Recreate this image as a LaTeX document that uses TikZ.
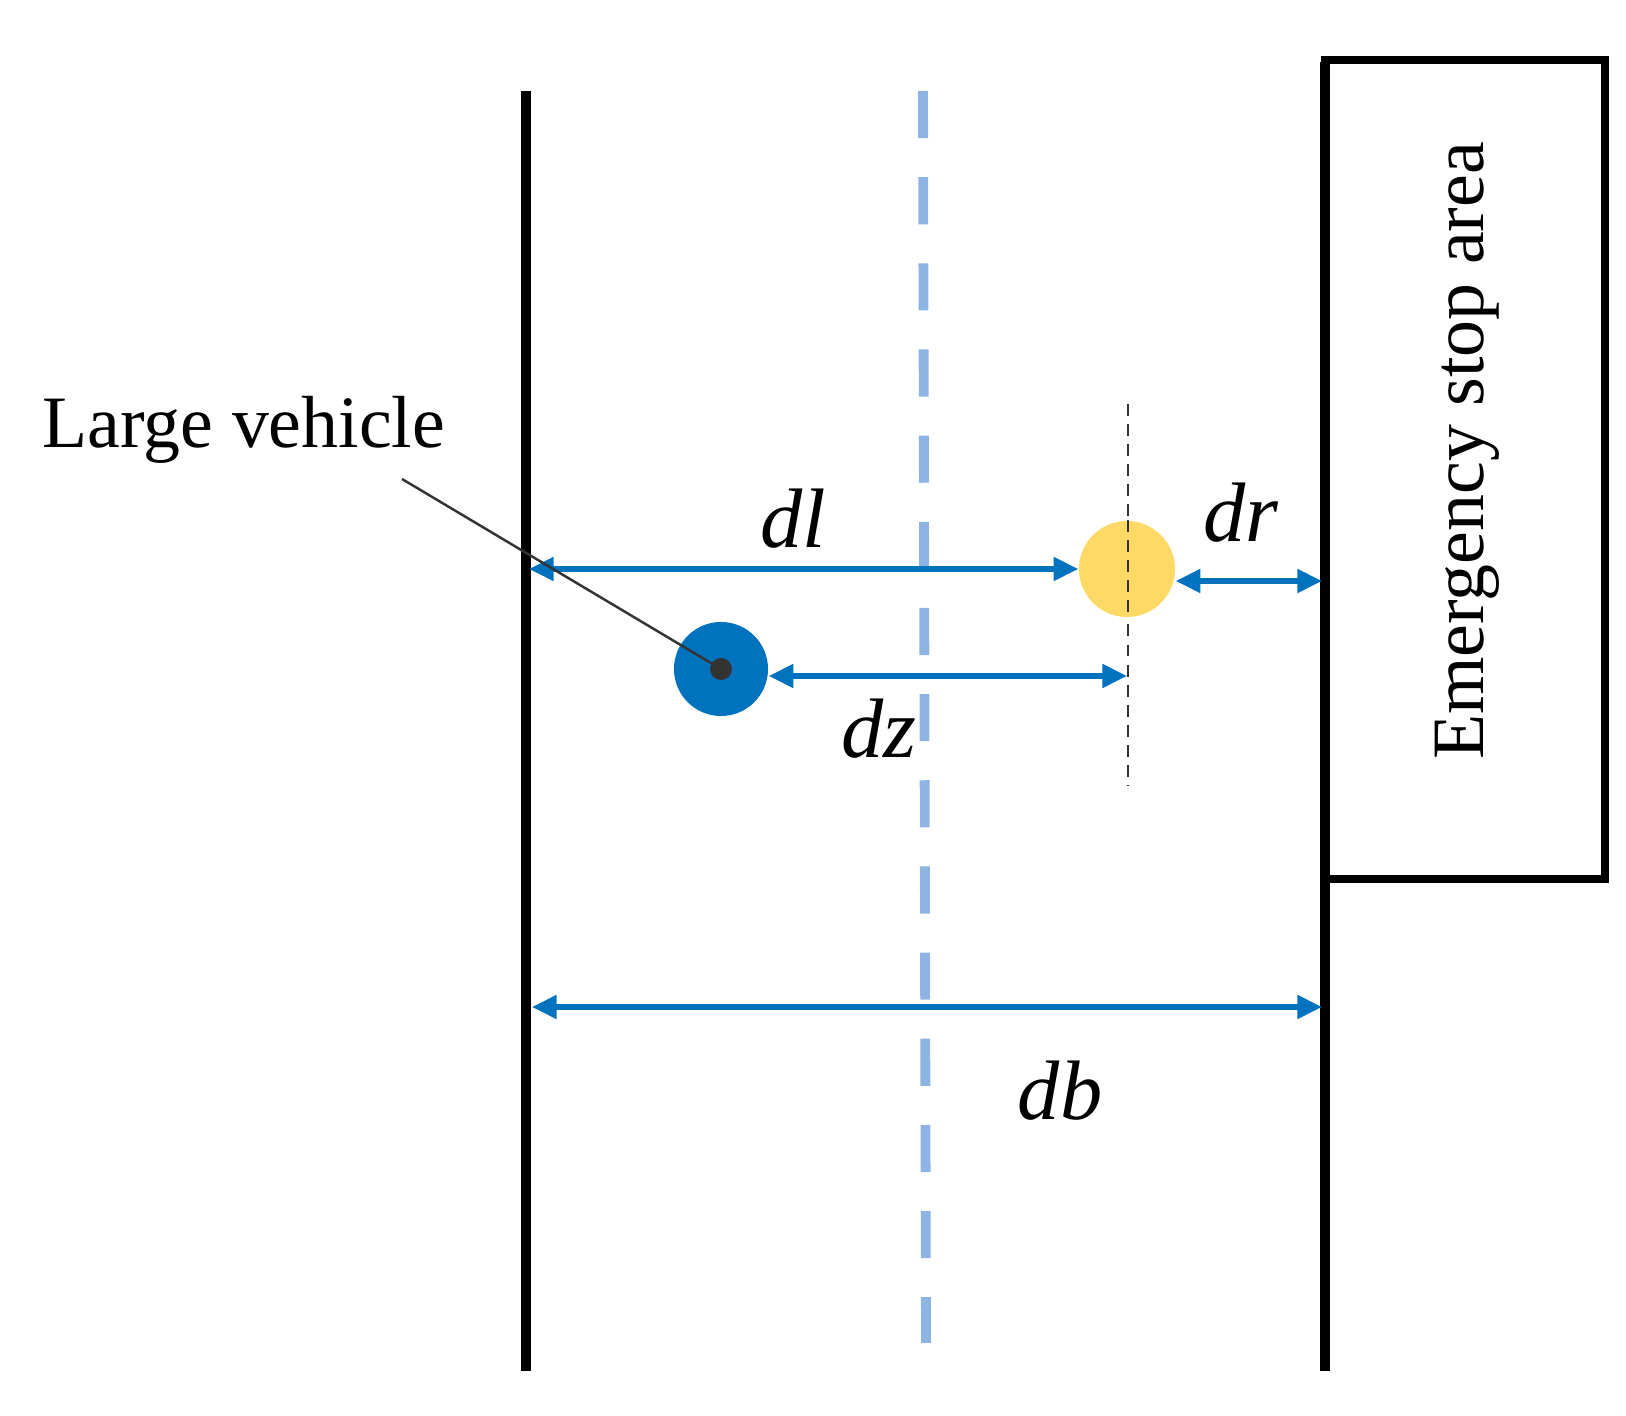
\documentclass[tikz,border=0pt]{standalone}
\usepackage{fontspec}
\setmainfont{Liberation Serif}
\usetikzlibrary{arrows.meta}
\definecolor{arrblue}{RGB}{0,114,190}
\definecolor{laneblue}{RGB}{142,180,227}
\definecolor{pedyellow}{RGB}{255,217,102}
\definecolor{dotgrey}{RGB}{51,51,51}
\begin{document}
\begin{tikzpicture}[x=0.01cm,y=-0.01cm,
  dim/.style={arrblue, line width=1.5pt, {Triangle[length=7pt,width=6.5pt]}-{Triangle[length=7pt,width=6.5pt]}},
  road/.style={line width=2.9pt, black},
  refline/.style={black!80, line width=0.6pt, dash pattern=on 3.4pt off 2.3pt},
  lbl/.style={font=\fontsize{24}{28}\selectfont\itshape},
  txt/.style={font=\fontsize{21}{25}\selectfont}]
\useasboundingbox (0,0) rectangle (1626,1416);
% roads
\draw[road] (526,91) -- (526,1371);
\draw[laneblue, line width=2.8pt, dash pattern=on 13.4pt off 11.1pt] (923,91) -- (926,1343);
\draw[road] (1325,62) -- (1325,1371);
% emergency stop area
\draw[line width=2.4pt] (1325,60) rectangle (1605,879);
\node[txt, rotate=90] (esa) at (1467,451) {Emergency stop area};
% thin dashed reference
\coordinate (rt) at (1128,404);
\coordinate (rb) at (1128,785);
\draw[refline] (rt) -- (rb);
% vehicles
\node[circle, fill=pedyellow, inner sep=0pt, minimum size=0.96cm] (ped) at (1127,569) {};
\draw[refline] (ped.north -| rt) -- (ped.south -| rt);
\node[circle, fill=arrblue, inner sep=0pt, minimum size=0.94cm] (veh) at (721,669) {};
\node[circle, fill=dotgrey, inner sep=0pt, minimum size=0.22cm] (dot) at (721,669) {};
% dimension arrows
\coordinate (dlL) at (529,569);
\coordinate (drR) at (1322,581);
\coordinate (dzR) at (1127,676);
\coordinate (dbL) at (532,1007);
\coordinate (dbR) at (1322,1007);
\draw[dim] (dlL) -- (ped.west);
\draw[dim] (ped.east |- drR) -- (drR);
\draw[dim] (veh.east |- dzR) -- (dzR);
\draw[dim] (dbL) -- (dbR);
\node[lbl] (dl) at (793,519) {dl};
\node[lbl] (dr) at (1241,513) {dr};
\node[lbl] (dz) at (879,729) {dz};
\node[lbl] (db) at (1060,1091) {db};
% label
\node[txt] (lv) at (244,430) {Large vehicle};
\coordinate (lvend) at (402,479);
\draw[dotgrey, line width=0.7pt] (dot.center) -- (lvend);
\end{tikzpicture}
\end{document}
